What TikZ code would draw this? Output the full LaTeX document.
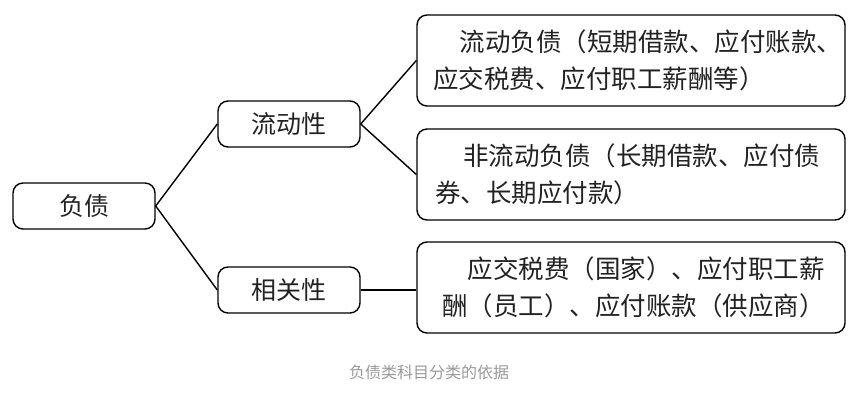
\documentclass[tikz,border=0pt]{standalone}
\usepackage{fontspec}
\setmainfont{Noto Sans CJK SC}
\definecolor{captiongray}{HTML}{999999}
\definecolor{ink}{HTML}{222222}
\begin{document}
\begin{tikzpicture}[x=1pt,y=-1pt,
  box/.style={draw=black, line width=1.4pt, rounded corners=10pt, text=ink},
  small/.style={box, minimum width=142pt, minimum height=46pt, inner sep=0pt, font=\fontsize{25}{28}\selectfont},
  big/.style={box, minimum height=91pt, text width=396pt, inner xsep=16pt, inner ysep=0pt, align=left, font=\fontsize{25.5}{37.5}\selectfont},
  link/.style={line width=1.4pt}]
\useasboundingbox (0,0) rectangle (861,408);
\node[small] (fz) at (84,206) {负债};
\node[small] (ld) at (289,124) {流动性};
\node[small] (xg) at (289,290) {相关性};
\node[big] (b1) at (631,60.5) {\hspace*{1.05em}流动负债（短期借款、应付账款、\\应交税费、应付职工薪酬等）};
\node[big, inner xsep=18pt, text width=392pt] (b2) at (631,174.5) {\hspace*{1.1em}非流动负债（长期借款、应付债\\券、长期应付款）};
\node[big, text width=378pt, inner xsep=25pt] (b3) at (631,287.5) {\hspace*{1.0em}应交税费（国家）、应付职工薪\\酬（员工）、应付账款（供应商）};
\node[text=captiongray, font=\fontsize{16}{19}\selectfont] (cap) at (429,372) {负债类科目分类的依据};
\draw[link] (fz.east) -- (ld.west);
\draw[link] (fz.east) -- (xg.west);
\draw[link] (ld.east) -- (b1.west);
\draw[link] (ld.east) -- (b2.west);
\draw[link] (xg.east) -- (xg.east -| b3.west);
\end{tikzpicture}
\end{document}
